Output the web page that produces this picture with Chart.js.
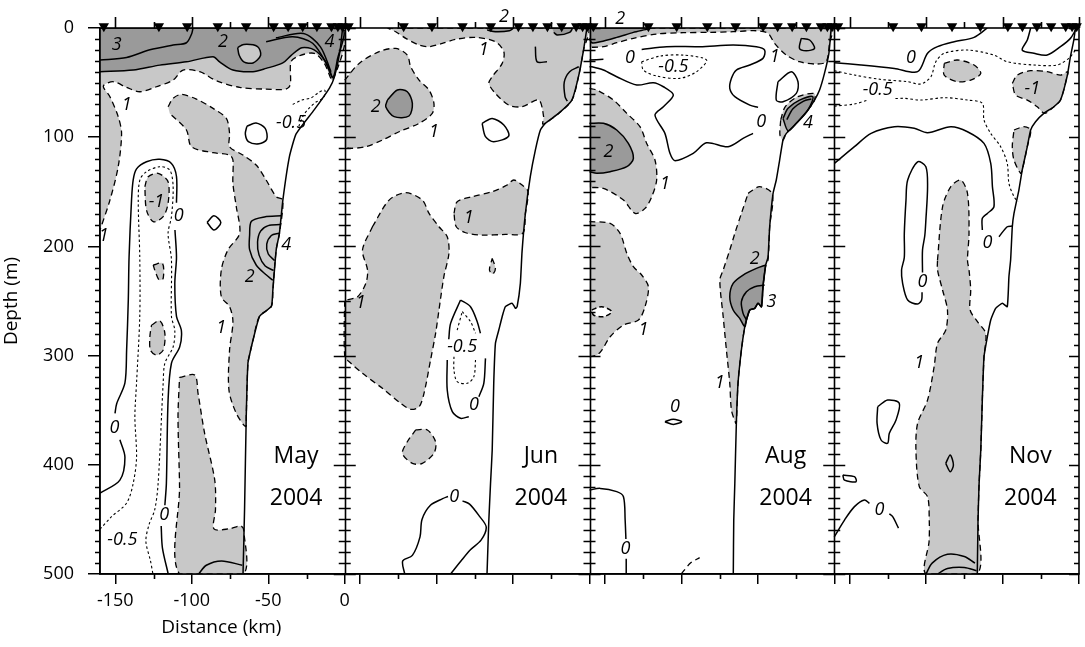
<!DOCTYPE html>
<html>
<head>
<meta charset="utf-8">
<script src="https://cdn.jsdelivr.net/npm/chart.js@4.4.1/dist/chart.umd.min.js"></script>
<style>
  html, body { margin: 0; padding: 0; background: #fff; }
</style>
</head>
<body>
<canvas id="sections" width="1085" height="647"></canvas>
<script>
// four cross-shelf sections, distance (km) vs depth (m)
const months = ['May', 'Jun', 'Aug', 'Nov'];
const year = '2004';
const kmMajor = [-150, -100, -50, 0];
const kmMinor = [-125, -75, -25];
const depthTicks = [0, 100, 200, 300, 400, 500];
const stations = [-157.5, -121.5, -103, -83, -64.5, -46.5, -37, -27.5, -18.2, -8.7, -4.5, -1.5];
const stationDepth = -1.5;

// ---- May ----
const seabedMay = [[-1.4,0],[-3,20],[-6.8,45],[-10,55],[-20,75],[-31.8,97],[-36.2,118],[-40.5,158],[-42.7,188],[-44.8,203],[-47,240],[-48,255],[-55.7,264],[-60,286],[-62,298],[-63.3,307],[-64.4,356],[-65.5,441],[-66.5,500]];
const mayLightTop = [[-160,0],[-2.5,0],[-7.9,47.7],[-13.3,32.4],[-19.9,23.2],[-29.6,25.4],[-35.1,30.9],[-36.6,54.4],[-51.4,55.9],[-68.7,54.4],[-83.9,48.3],[-94.8,40],[-105.7,38.5],[-112.2,47.7],[-123.1,53.8],[-133.9,58.4],[-142.6,54.4],[-151.3,49.2],[-157.8,53.2],[-153.5,62.9],[-148.1,81.2],[-145.9,96.5],[-148.1,127],[-153.5,157.6],[-160,185]];
const mayDarkTop = [[-160,0],[-2.5,0],[-5,30],[-8,45],[-13,30],[-20,20],[-28,18],[-35,25],[-40.5,32],[-51.4,37],[-60,40],[-73.1,38.5],[-81.8,31],[-86.1,26.3],[-103.5,31],[-120.9,34],[-138.3,38.5],[-160,40]];
const mayIsland = [[-70,18],[-66,15],[-57,17],[-55,25],[-60,32],[-66,31],[-69,25],[-70,18]];
const mayLightMid = [[-115.5,72.1],[-112.2,64.4],[-106.8,60.8],[-97,65.1],[-86.1,73.6],[-77.4,82.8],[-75.3,96.5],[-75.3,108.7],[-66.6,116.3],[-57.9,125.5],[-51.4,139.2],[-44.8,154.5],[-40.5,157.5],[-42.7,188],[-44.8,203],[-47,240],[-48,255],[-55.7,264],[-60,286],[-62,298],[-63.3,307],[-64.4,356],[-64.8,365],[-70.9,352.9],[-75.7,331.5],[-75.3,294.9],[-73.1,268.9],[-75.3,255.2],[-80.7,246],[-80.7,221.6],[-76.4,203.3],[-68.7,188.1],[-70.9,163.7],[-73.1,142.3],[-73.1,120.9],[-75.3,116.3],[-86.1,114.2],[-100.2,108.7],[-103.5,93.4],[-114.4,78.2]];
const mayLightLow = [[-108,320],[-98.1,317.8],[-95.9,334.6],[-91.6,371.2],[-85,413.9],[-84.5,441],[-85.5,458.6],[-75.5,458.6],[-68,456],[-66,460],[-66.5,500],[-108,500],[-108,420],[-109,356],[-108,320]];
const mayMinusOne = [[-130.7,145.3],[-128.5,136.2],[-122,133.1],[-115.5,140.8],[-115.5,160.6],[-118.7,172.8],[-125.2,177.4],[-129.6,166.7],[-130.7,145.3]];
const mayBlobA = [[-125.2,217],[-119.2,215.5],[-118.7,229.2],[-121.3,230.8],[-124.2,221.6],[-125.2,217]];
const mayBlobB = [[-126.3,272],[-120.9,268],[-117.6,279.6],[-118.7,295],[-123.1,299.5],[-127,295],[-127.4,282.7],[-126.3,272]];
const mayThree = [[-160,29.4],[-142.6,27],[-127.4,20],[-112.2,15.6],[-103.5,13.5],[-100,5],[-99.2,0]];
const mayFourA = [[-51.4,12.5],[-34,8],[-21,14],[-11,35],[-8,46]];
const mayFourB = [[-45,9],[-27,5],[-16,17],[-9,40]];
const mayBumpA = [[-41.5,172],[-52.5,173],[-61,177],[-62.2,190],[-62.2,203],[-57.9,217],[-51.4,226],[-47,231]];
const mayBumpB = [[-42.3,180],[-50,181],[-55,186],[-57,196],[-56,208],[-52,218],[-46.5,222]];
const mayBumpC = [[-43,188],[-48,190],[-51,198],[-50,207],[-45.8,213]];
const mayBottomTwo = [[-95.5,500],[-90.5,492],[-80.5,488],[-67,492]];
const mayZero = [[-160,426],[-147,414],[-143.7,393],[-147,377],null,[-150.2,353],[-149.1,344],[-143.7,325],[-142.6,295],[-141.5,249],[-141,210],[-139.4,158],[-138.3,139],[-136.1,129],[-129.6,122.5],[-120.9,120.3],[-113.3,124],[-110,136],[-110,160],null,[-111,185],[-110,210],[-111.1,234],[-110,264],[-106.8,277],[-107.9,292],[-113.3,307],[-115.5,341],[-116.6,417],[-117.6,437],null,[-120,456],[-119.2,476],[-115.4,500]];
const mayHalf = [[-160,459],[-152.8,448],[-142.6,435],[-138.3,417],[-136.1,393],[-137.2,356],[-136.1,325],[-134,264],[-134,210],[-135,158],[-133.9,139],[-129.6,131.6],[-120.9,127],[-114.4,130],[-112.2,145],[-113.3,173],[-115.5,188],[-113.3,212],[-113.3,264],[-111.1,277],[-112.2,292],[-117.6,307],[-118.7,325],[-122,417],[-124.2,441],[-128,455],[-130,470],[-127,488],[-125.4,500]];
const mayHalfSlope = [[-34,70],[-28,66],[-22,64],[-17,59],[-13,57],[-14,64],[-19,68],[-23,73],[-27,80],[-30,90]];
const mayRing = [[-64,90],[-58,87],[-52,92],[-51,102],[-56,106],[-63,104],[-65,97],[-64,90]];
const mayDiamond = [[-90,178],[-85.5,172],[-81,178],[-85.5,185],[-90,178]];
const mayLabels = [[-149,15.6,'3'],[-79.6,12.5,'2'],[-10,12.5,'4'],[-142.6,70.6,'1'],[-157.5,190,'1'],[-123.1,159.1,'-1'],[-150.5,366,'0'],[-108.5,172,'0'],[-118,446,'0'],[-38.3,198.8,'4'],[-62.2,227.7,'2'],[-80.7,275,'1'],[-145.4,469,'-0.5'],[-35.1,86.7,'-0.5']];

// ---- Jun ----
const seabedJun = [[-1.7,0],[-3.9,20.2],[-7.2,44.6],[-11.5,66],[-20.2,78.2],[-28.9,87.3],[-32.1,93.4],[-35.4,111.8],[-38.7,136.2],[-41.9,169.8],[-44.1,205],[-45.2,233.8],[-47.3,255.2],[-48.4,256.7],[-50.6,252],[-55,255.2],[-57.1,264.4],[-59.3,276.6],[-61.5,288.8],[-62.6,325.4],[-63.6,386.5],[-64.7,417],[-65.8,450.6],[-67,500]];
const junLightTop = [[-132.1,0],[-1.7,0],[-3.9,20.2],[-7.2,44.6],[-11.5,66],[-20.2,78.2],[-28.9,87.3],[-30.6,87.9],[-30,81.2],[-33.2,66],[-44.1,72.1],[-52.8,70.6],[-61.5,59.9],[-65.8,50.7],[-63.6,44.6],[-57.1,32.4],[-56,21.7],[-61.5,12.6],[-74.5,8.6],[-87.6,10.4],[-96.2,14.1],[-104.9,17.1],[-111.4,15.6],[-120.1,9.5],[-126.7,3.4],[-132.1,0]];
const junDarkA = [[-68,0],[-50.2,0],[-52.4,2.5],[-61.5,3.4],[-66.9,1.9]];
const junDarkB = [[-24.5,0],[-11.5,0],[-13,4],[-21,6.4],[-23.4,4]];
const junLightLeft = [[-160,47.7],[-150.6,32.4],[-137.5,21.7],[-126.7,18.7],[-119.1,24.8],[-116.9,35.5],[-111.4,47.7],[-104.9,56.8],[-101.7,69],[-102.8,78.2],[-111.4,87.3],[-124.5,95],[-135.4,102.6],[-146.2,108.7],[-157.1,110.2],[-160,108.7]];
const junDarkLeft = [[-132.1,66],[-125.6,56.8],[-119.1,58.4],[-115.8,69],[-118,80.6],[-127.7,81.2],[-133.2,72.1],[-132.1,66]];
const junLightMid = [[-88.6,169.8],[-86.5,159.1],[-76.7,154.5],[-63.6,149.9],[-53.9,143.8],[-49.5,139.2],[-44.1,143.8],[-40.2,149.9],[-41.9,169.8],[-43.7,188.1],[-55,189],[-70.2,189.6],[-81,187.5],[-87.1,182],[-88.6,169.8]];
const junLightBig = [[-141.9,182],[-131,157.6],[-120.1,150.8],[-109.3,157.6],[-104.9,169.8],[-98.4,182],[-93,191.1],[-91.9,206.4],[-95.2,227.7],[-98.4,258.2],[-100.6,279.6],[-103.9,304],[-108.2,334.6],[-111.4,346.8],[-116.9,349.2],[-123.4,343.7],[-135.4,330],[-148.4,316.2],[-157.1,305.6],[-160,301],[-160,249],[-159.3,249.1],[-151.6,246],[-146.2,233.8],[-145.1,221.6],[-148.4,203.3],[-141.9,182]];
const junBlob = [[-113.6,368.1],[-106,368.1],[-100.6,378.9],[-101.7,389.5],[-109.3,398.7],[-115.8,398.7],[-122.3,389.5],[-119.1,378.9],[-113.6,368.1]];
const junTiny = [[-63.6,211],[-61.5,220.1],[-63.2,225.3],[-65.4,221.6],[-63.6,211]];
const junRing = [[-70.2,87.3],[-63.6,82.8],[-56,88.8],[-52.8,98.9],[-62.6,104.1],[-68,99.5],[-70.2,87.3]];
const junHook = [[-35.4,17.1],[-34.3,30.9],[-27.8,30.9]];
const junSlopeLine = [[-7,35.5],[-13,40],[-16.5,49.6],[-16,62.9],[-14.5,67]];
const junZeroLoop = [[-84.3,249.1],[-77.8,255.2],[-73.4,268.9],[-71.3,279.6],null,[-68,302.5],[-69.1,325.4],[-72.3,337.6],null,[-78.9,355.9],[-84.3,357.4],[-89.7,351.3],[-93,331.5],[-93,304],null,[-92,285],[-90.8,270.5],[-84.3,249.1]];
const junHalfLoop = [[-83.2,259.8],[-77.8,268.9],[-74.5,279.6],null,[-74.5,304],[-75.6,319.3],[-79.9,325.4],[-86.5,323.9],[-88.6,313.2],[-88.6,301],null,[-86.5,276.6],[-83.2,259.8]];
const junZeroLow = [[-120.8,500],[-122.1,488],[-115.8,483],[-110.8,466],[-109.5,450],[-104,437],[-96,431],[-92.5,429],null,[-83,433],[-78.4,436],[-72,447],[-67.5,457],[-70.9,469],[-78,478],[-83.4,487],[-90.8,500]];
const junLabels = [[-56,-10.3,'2'],[-69.1,20.2,'1'],[-139.7,72.1,'2'],[-101.7,95,'1'],[-78.9,174.3,'1'],[-149.5,252.1,'1'],[-83.2,292.4,'-0.5'],[-75.6,345.2,'0'],[-88.4,429,'0']];

// ---- Aug ----
const seabedAug = [[-2,0],[-3.5,23.2],[-6.4,41.6],[-9.6,56.8],[-12.9,66],[-17.2,75.1],[-24.8,87.3],[-31.3,96.5],[-33.5,102.6],[-35.7,120.9],[-37.9,139.2],[-40,151.4],[-42.2,182],[-43.3,210],[-44.8,217],[-46.6,236.9],[-47.6,255.2],[-49.8,252.1],[-52,256.7],[-55.2,258.2],[-57.4,267.4],[-58.5,273.5],[-60.7,294.9],[-62.9,325.4],[-64,362],[-65,417],[-65.7,450.6],[-66,500]];
const augLightTop = [[-160,0],[-2,0],[-3.1,14.1],[-5.3,30.9],[-11.8,33],[-22.7,30.9],[-31.3,24.8],[-39,14.1],[-43.3,4.9],[-50.9,2.5],[-66.1,3.4],[-81.3,4],[-98.7,4.3],[-116.1,5.5],[-131.3,9.5],[-142.2,13.5],[-150.9,17.1],[-160,17.7]];
const augDarkTop = [[-160,0],[-120.4,0],[-131.3,4],[-142.2,8.6],[-153,12.6],[-158.5,13.5],[-160,9.5]];
const augLightNose = [[-35,84],[-32,72],[-24,63],[-13,60],[-12.9,66],[-17.2,75.1],[-24.8,87.3],[-31.3,96.5],[-33.5,102.6],[-35.5,98],[-35,84]];
const augDarkNose = [[-33.5,82.8],[-30.2,73.6],[-22.7,66],[-14,62.9],[-17.2,75.1],[-24.8,87.3],[-30.2,94.1],[-33.5,82.8]];
const augLightLeft = [[-160,55.3],[-155.2,56.8],[-144.3,66],[-135.6,78.2],[-127,90.4],[-122.6,105.7],[-117.2,120.9],[-116.1,139.2],[-119.3,154.5],[-123.7,165.2],[-130.2,169.8],[-137.8,157.6],[-150.9,146.9],[-160,146]];
const augDarkLeft = [[-160,87.3],[-150.9,87.3],[-142.2,93.4],[-134.6,105.7],[-131.3,119.4],[-135.6,127],[-146.5,131.6],[-155.2,133.1],[-160,131.6]];
const augLightLow = [[-160,177.4],[-146.5,178.9],[-140,188.1],[-135.6,206.4],[-131.3,218.6],[-125.9,226.2],[-121.5,236.9],[-123.7,255.2],[-128,267.4],[-137.8,272],[-146.5,282.7],[-151.9,294.9],[-155.2,299.5],[-160,301]];
const augHole = [[-158.5,258.2],[-151.9,255.2],[-145.4,259.8],[-150.9,264.4],[-157.4,262.8],[-158.5,258.2]];
const augLightSlope = [[-56.3,151.4],[-48.7,145.3],[-40.5,152],[-42.2,182],[-43.3,212.5],[-44.8,217],[-46.6,236.9],[-47.6,255.2],[-49.8,252.1],[-52,256.7],[-55.2,258.2],[-57.4,267.4],[-58.5,273.5],[-60.7,294.9],[-62.9,325.4],[-64,362],[-64.4,362],[-67.2,349.8],[-68.3,325.4],[-70.5,294.9],[-72.6,264.4],[-74.8,230.8],[-72.6,221.6],[-68.3,203.3],[-65,188.1],[-60.7,169.8],[-56.3,151.4]];
const augDarkSlope = [[-44.8,217],[-50.9,220.1],[-59.6,226.2],[-66.1,233.8],[-68.3,246],[-66.1,258.2],[-61.8,265.9],[-58.5,273.5],[-57.4,267.4],[-55.2,258.2],[-52,256.7],[-49.8,252.1],[-47.6,255.2],[-46.6,236.9],[-44.8,217]];
const augThree = [[-45.5,235.4],[-52,236.9],[-57.4,241.5],[-60.7,250.6],[-59.6,261.3],[-57.4,267.4]];
const augFour = [[-31,84],[-27,74],[-20,67],[-15,65]];
const augRingTop = [[-21.6,9.5],[-16.1,11],[-12.9,18.7],[-18.3,20.8],[-22.7,18.7],[-21.6,9.5]];
const augRingMid = [[-36.8,49.2],[-28.1,40],[-23.7,49.2],[-24.8,59.9],[-33.5,67.5],[-37.9,66],[-36.8,49.2]];
const augZero = [[-160,29.3],[-150.9,28.7],null,[-125.9,19.6],[-109.6,17.1],[-87.8,17.1],[-66.1,15.6],[-50.9,17.1],[-45.5,20.2],[-46.6,27.8],[-55.2,33.9],[-64,38.5],[-67.2,46.1],[-68.3,55.3],[-65,62.9],[-55.2,70.6],[-49.8,72.7],null,[-53.1,96.5],[-59.6,101.1],[-69.4,108.7],[-83.5,105.1],[-92.2,114.8],[-104.1,121.5],[-107.4,114.8],[-110.7,96.5],[-117.2,79.7],[-111.7,72.1],[-105.2,61.4],[-111.7,53.8],[-118.3,50.1],[-129.1,52.2],[-142.2,44.6],[-150.9,38.5],[-158.5,35.5],[-160,35.5]];
const augHalf = [[-125.9,30.9],[-113.9,25.7],[-98.7,24.8],[-83.5,29.3],[-90,40],[-100.9,46.1],[-116.1,44],[-124.8,38.5],[-125.9,30.9]];
const augZeroSmall = [[-110.7,360.5],[-105.2,358.4],[-99.8,360.5],[-105.2,363],[-110.7,360.5]];
const augZeroLow = [[-160,423.1],[-153,421.6],[-142.2,424.6],[-137.8,429.2],[-136.7,450.6],[-136.2,468],null,[-136,486],[-136,500]];
const augOneLow = [[-100,500],[-94,490],[-88,485]];
const augLabels = [[-140,-8.8,'2'],[-133.5,27.8,'0'],[-105.2,35.5,'-0.5'],[-39,26.3,'1'],[-47.7,85.8,'0'],[-17.2,87.3,'4'],[-147.6,113.3,'2'],[-110.6,142.3,'1'],[-124.8,276.6,'1'],[-52,211,'2'],[-41.1,250.6,'3'],[-74.8,325.4,'1'],[-104.1,346.8,'0'],[-136.5,477,'0']];

// ---- Nov ----
const seabedNov = [[-2.3,0],[-3.4,11],[-5.6,26.3],[-7.8,44.6],[-12.1,66],[-16.4,72.1],[-23,78.2],[-28.4,85.8],[-31.6,93.4],[-33.8,108.7],[-37.1,130],[-39.3,148.4],[-42.5,169.8],[-43.6,182],[-44.7,212.5],[-45.8,227.7],[-46.9,255.2],[-50.1,252.1],[-54.5,256.7],[-57.7,267.4],[-59.9,282.7],[-62.1,301],[-63.2,340.7],[-64.2,386.5],[-65.3,417],[-66,450.6],[-66.5,500]];
const novLightBlob = [[-88.1,32.4],[-79.5,29.3],[-68.6,33.9],[-64.2,41.6],[-70.8,47.7],[-79.5,49.2],[-88.1,43.1],[-88.1,32.4]];
const novLightNose = [[-43.6,50.7],[-40.3,43.1],[-31.6,39.1],[-20.8,40],[-12.1,43.1],[-7.3,40],[-7.8,44.6],[-12.1,66],[-16.4,72.1],[-22.5,78.2],[-27.3,72.1],[-33.8,66],[-41.4,61.4],[-43.6,50.7]];
const novLightSlope = [[-42.5,93.4],[-36,90.4],[-31.6,93.4],[-33.8,108.7],[-37.1,130],[-38.2,133.1],[-42.5,120.9],[-43.6,108.7],[-42.5,93.4]];
const novLightTongue = [[-92.5,212.5],[-89.2,163.7],[-83.8,145.3],[-77.3,139.2],[-72.9,151.4],[-71.9,188.1],[-72.9,212.5],[-71.9,221.6],[-70.8,239.9],[-71.2,258.2],[-66.4,268.9],[-61,279.6],[-62.1,301],[-63.2,340.7],[-64.2,386.5],[-65.3,417],[-66,450.6],[-66.5,500],[-100,500],[-98,470],[-97.9,450.6],[-99,429.2],[-104.4,420],[-106.6,386.5],[-105.5,362],[-99,340.7],[-94.7,310.1],[-92.5,288.8],[-87.1,276.6],[-86,258.2],[-89.2,239.9],[-92.5,221.6],[-92.5,212.5]];
const novZeroTop = [[-159.9,31.8],[-142.5,33.9],[-120.7,37],[-105.5,40],[-99,23.2],[-92.5,17.1],[-81.6,12.6],[-68.6,8.6],[-59.9,0]];
const novZeroCorner = [[-31.6,0],[-33.8,11],[-37.1,20.2],[-29.5,23.2],[-20.8,24.8],[-12.1,17.1],[-5.6,9.5],[-2.3,1.9]];
const novHalfUpper = [[-159.9,39.1],[-146.8,43.1],[-130,47],[-112,49.2],[-103.4,51.3],[-96.8,44.6],[-93.6,30.9],[-88.1,23.2],[-72.9,20.2],[-55.6,24.8],[-46.9,30.9],[-29.5,33.9],[-14.3,33.9],[-6.7,27.8],[-2.3,20.2]];
const novHalfLower = [[-159.9,71.5],[-146.8,69.6],[-138.1,66],null,[-120,64.6],[-114.2,64.4],[-103.4,66],[-88.1,63.8],[-72.9,66],[-63.2,69],[-62.1,84.3],[-57.7,96.5],[-51.2,108.7],[-46.9,124],[-45.8,142.3],[-42.5,154.5],[-39.9,159.1]];
const novZeroBig = [[-159.9,124],[-146.8,108.7],[-135.9,96.5],[-120.7,90.4],[-107.7,91.9],[-99,95.9],[-83.8,90.4],[-72.9,95],[-62.1,105.7],[-57.7,124],[-56.6,145.3],[-55.6,163.7],[-59.9,169.8],[-63.2,174.3],[-63.2,185]];
const novZeroStub = [[-52.3,191.1],[-46.9,182],[-43.6,181.4]];
const novTongueZero = [[-102.3,224],[-102.3,203.3],[-100.8,190],[-100.1,175.9],[-99,145.3],[-100.1,127],[-105.5,122.5],[-112,139.2],[-113.1,157.6],[-114.2,188.1],[-114.2,210],[-116,221.6],[-115.3,233.8],[-112,249.1],[-105.5,252.8],[-102.9,249.1],[-102.6,242]];
const novDiamond = [[-87.1,398.7],[-84.2,391],[-82.1,400.2],[-84.2,406.3],[-87.1,398.7]];
const novRing = [[-131.6,346.8],[-125.1,340.7],[-117.5,343.7],[-119.6,359],[-124,371.2],[-125.1,380.3],[-129.4,377.3],[-132,362],[-131.6,346.8]];
const novSmall = [[-154.4,409.4],[-146.8,410.9],[-145.7,415.5],[-153.3,414],[-154.4,409.4]];
const novZeroLow = [[-160,466],[-153.3,450.6],[-146.8,438.3],[-140.3,432.2],[-137,435.3],null,[-124,445],[-121.8,447.5],[-118,458]];
const novBottomA = [[-100,500],[-96,490],[-86,482],[-75,484],[-68,490]];
const novBottomB = [[-92.5,500],[-86,495],[-75,494],[-67,497]];
const novLabels = [[-109.9,27.8,'0'],[-131.6,56.8,'-0.5'],[-30.5,55.3,'-1'],[-59.9,197.2,'0'],[-102.3,232.3,'0'],[-104.4,307.1,'1'],[-130.5,441.4,'0']];

const panelLabelKm = -31.8;
const panelLabelDepths = [392.6, 430.7];

// layer lists: [panel, outline]
const lightRegions = [[0, mayLightTop], [0, mayLightMid], [0, mayLightLow], [0, mayMinusOne], [0, mayBlobA], [0, mayBlobB],
  [1, junLightTop], [1, junLightLeft], [1, junLightMid], [1, junLightBig], [1, junBlob], [1, junTiny],
  [2, augLightTop], [2, augLightNose], [2, augLightLeft], [2, augLightLow], [2, augLightSlope],
  [3, novLightBlob], [3, novLightNose], [3, novLightSlope], [3, novLightTongue]];
const darkRegions = [[0, mayDarkTop], [1, junDarkA], [1, junDarkB], [1, junDarkLeft], [2, augDarkTop], [2, augDarkNose], [2, augDarkLeft], [2, augDarkSlope]];
const islands = [[0, mayIsland, '#c8c8c8'], [2, augHole, '#ffffff']];
const solidLines = [[0, mayThree], [0, mayFourA], [0, mayFourB], [0, mayBumpA], [0, mayBumpB], [0, mayBumpC], [0, mayBottomTwo], [0, mayZero], [0, mayRing], [0, mayDiamond],
  [1, junRing], [1, junHook], [1, junSlopeLine], [1, junZeroLoop], [1, junZeroLow],
  [2, augThree], [2, augFour], [2, augRingTop], [2, augRingMid], [2, augZero], [2, augZeroSmall], [2, augZeroLow],
  [3, novZeroTop], [3, novZeroCorner], [3, novZeroBig], [3, novZeroStub], [3, novTongueZero], [3, novDiamond], [3, novRing], [3, novSmall], [3, novZeroLow], [3, novBottomA], [3, novBottomB]];
const dashedLines = [[2, augOneLow]];
const dottedLines = [[0, mayHalf], [0, mayHalfSlope], [1, junHalfLoop], [2, augHalf], [3, novHalfUpper], [3, novHalfLower]];
const seabeds = [seabedMay, seabedJun, seabedAug, seabedNov];
const contourLabels = [mayLabels, junLabels, augLabels, novLabels];

const LIGHT = '#c8c8c8';
const DARK = '#9a9a9a';
const FONT = "'Open Sans', 'Noto Sans', sans-serif";

// panel km -> position on the shared x axis
function gx(panel, km) { return panel * 160 + km + 160; }

function toXY(panel, pts) {
  const out = [];
  pts.forEach(p => {
    if (p) out.push({x: gx(panel, p[0]), y: p[1]});
    else out.push({x: out[out.length - 1].x, y: null});
  });
  return out;
}

function lineSet(panel, pts, opts) {
  return Object.assign({
    type: 'line', data: toXY(panel, pts), fill: false,
    borderColor: '#000', borderWidth: 1.5, pointRadius: 0, tension: 0.3
  }, opts);
}

const datasets = [];
lightRegions.forEach(([p, pts]) => datasets.push(lineSet(p, pts, {fill: 'shape', backgroundColor: LIGHT, borderDash: [6, 4], borderWidth: 1.3, order: 6})));
darkRegions.forEach(([p, pts]) => datasets.push(lineSet(p, pts, {fill: 'shape', backgroundColor: DARK, order: 5})));
islands.forEach(([p, pts, c]) => datasets.push(lineSet(p, pts, {fill: 'shape', backgroundColor: c, borderDash: c === '#ffffff' ? [5, 3] : [], order: 4})));
dashedLines.forEach(([p, pts]) => datasets.push(lineSet(p, pts, {borderDash: [6, 4], borderWidth: 1.3, order: 3})));
dottedLines.forEach(([p, pts]) => datasets.push(lineSet(p, pts, {borderDash: [2.5, 2.5], borderWidth: 1.1, order: 3})));
solidLines.forEach(([p, pts]) => datasets.push(lineSet(p, pts, {order: 2})));
seabeds.forEach((pts, p) => datasets.push(lineSet(p, pts, {tension: 0.15, borderWidth: 1.5, order: 1})));

// CTD stations on top of each section
const stationPoints = [];
months.forEach((m, p) => stations.forEach(s => stationPoints.push({x: gx(p, s), y: stationDepth})));
datasets.push({
  type: 'line', data: stationPoints, showLine: false, clip: false,
  pointStyle: 'triangle', pointRotation: 180, pointRadius: 6,
  pointBackgroundColor: '#000', pointBorderWidth: 0, order: 0
});

const xTickValues = [];
months.forEach((m, p) => kmMajor.forEach(k => xTickValues.push(gx(p, k))));

// frame, panel separators and the small tick marks
const framePlugin = {
  id: 'frame',
  afterDatasetsDraw(chart) {
    const {ctx, chartArea: a, scales: {x, y}} = chart;
    ctx.save();
    ctx.strokeStyle = '#000';
    ctx.lineWidth = 1.6;
    ctx.strokeRect(a.left, a.top, a.right - a.left, a.bottom - a.top);
    ctx.beginPath();
    for (let p = 1; p < months.length; p++) {
      const px = Math.round(x.getPixelForValue(p * 160)) + 0.5;
      ctx.moveTo(px, a.top); ctx.lineTo(px, a.bottom);
    }
    // depth ticks every 10 m
    for (let d = 0; d <= 500; d += 10) {
      const py = Math.round(y.getPixelForValue(d)) + 0.5;
      const major = d % 100 === 0;
      if (!major) { ctx.moveTo(a.left - 5, py); ctx.lineTo(a.left, py); }
      for (let p = 1; p < months.length; p++) {
        const px = x.getPixelForValue(p * 160);
        const len = major ? 11 : 6;
        ctx.moveTo(px - len, py); ctx.lineTo(px + len, py);
      }
      ctx.moveTo(a.right - (major ? 10 : 5), py); ctx.lineTo(a.right, py);
    }
    // distance ticks on top and minor ones at the bottom
    months.forEach((m, p) => {
      kmMajor.forEach(k => {
        const px = Math.round(x.getPixelForValue(gx(p, k))) + 0.5;
        ctx.moveTo(px, a.top); ctx.lineTo(px, a.top - 11);
      });
      kmMinor.forEach(k => {
        const px = Math.round(x.getPixelForValue(gx(p, k))) + 0.5;
        ctx.moveTo(px, a.top); ctx.lineTo(px, a.top - 6);
        ctx.moveTo(px, a.bottom); ctx.lineTo(px, a.bottom + 5);
      });
    });
    ctx.stroke();
    ctx.restore();
  }
};

// contour values, section names and the distance title
const textPlugin = {
  id: 'texts',
  afterDraw(chart) {
    const {ctx, chartArea: a, scales: {x, y}} = chart;
    ctx.save();
    ctx.fillStyle = '#000';
    ctx.textAlign = 'center';
    ctx.textBaseline = 'middle';
    ctx.font = 'italic 18px ' + FONT;
    contourLabels.forEach((list, p) => list.forEach(([km, d, t]) => {
      ctx.fillText(t, x.getPixelForValue(gx(p, km)), y.getPixelForValue(d));
    }));
    ctx.font = '23px ' + FONT;
    months.forEach((m, p) => {
      const px = x.getPixelForValue(gx(p, panelLabelKm));
      ctx.fillText(m, px, y.getPixelForValue(panelLabelDepths[0]));
      ctx.fillText(year, px, y.getPixelForValue(panelLabelDepths[1]));
    });
    ctx.font = '19px ' + FONT;
    ctx.fillText('Distance (km)', (x.getPixelForValue(gx(0, -160)) + x.getPixelForValue(gx(0, 0))) / 2 - 1, a.bottom + 54);
    ctx.restore();
  }
};

new Chart(document.getElementById('sections'), {
  type: 'line',
  data: {datasets: datasets},
  plugins: [framePlugin, textPlugin],
  options: {
    responsive: false,
    animation: false,
    events: [],
    layout: {padding: {left: 0, top: 28, right: 3, bottom: 0}},
    plugins: {legend: {display: false}, tooltip: {enabled: false}},
    scales: {
      x: {
        type: 'linear', position: 'bottom', min: 0, max: 640,
        afterFit: s => { s.height = 73; },
        afterBuildTicks: s => { s.ticks = xTickValues.map(v => ({value: v})); },
        ticks: {
          autoSkip: false, maxRotation: 0, padding: 6, color: '#000',
          font: {family: FONT, size: 18},
          callback: v => (v <= 160 ? String(v - 160) : '')
        },
        grid: {drawOnChartArea: false, tickLength: 10, color: '#000', lineWidth: 1.5},
        border: {color: '#000', width: 1.5}
      },
      y: {
        type: 'linear', position: 'left', reverse: true, min: 0, max: 500,
        afterFit: s => { s.width = 100; },
        afterBuildTicks: s => { s.ticks = depthTicks.map(v => ({value: v})); },
        ticks: {padding: 14, color: '#000', font: {family: FONT, size: 18}},
        grid: {drawOnChartArea: false, tickLength: 12, color: '#000', lineWidth: 1.5},
        border: {color: '#000', width: 1.5},
        title: {display: true, text: 'Depth (m)', color: '#000', font: {family: FONT, size: 19}, padding: {top: 0, bottom: 0}}
      }
    }
  }
});
</script>
</body>
</html>
